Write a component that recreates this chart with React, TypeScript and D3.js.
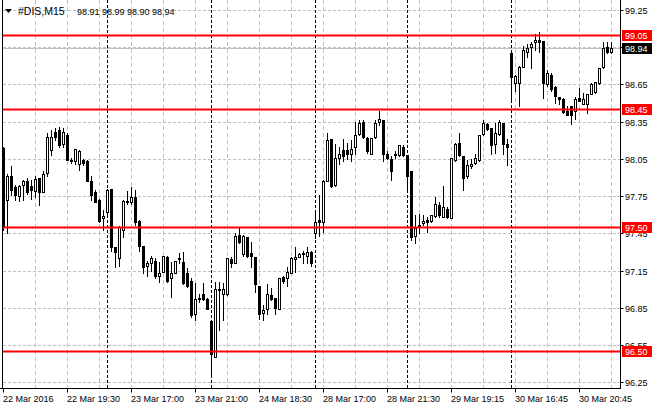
import React, { useRef, useEffect } from "react";
import * as d3 from "d3";

// #DIS M15 bars, 22 Mar 2016 15:30 .. 30 Mar 2016 22:45 (server time)
const opens = [
  98.14, 97.72, 97.91, 97.82, 97.75, 97.84, 97.87, 97.83, 97.79, 97.9,
  97.78, 97.94, 98.12, 98.27, 98.28, 98.17, 98.24, 98.04, 98.03, 98.01,
  98.04, 98.03, 97.87, 97.78, 97.72, 97.57, 97.62, 97.81, 97.34, 97.25,
  97.48, 97.71, 97.7, 97.74, 97.55, 97.35, 97.19, 97.21, 97.23, 97.11,
  97.14, 97.26, 97.09, 97.13, 97.25, 97.22, 97.13, 97.07, 96.8, 96.92,
  96.96, 96.92, 96.74, 96.45, 97.0, 96.96, 96.96, 97.24, 97.21, 97.44,
  97.28, 97.42, 97.29, 97.26, 97.03, 96.81, 96.84, 96.95, 96.93, 96.84,
  97.1, 97.09, 97.13, 97.24, 97.26, 97.29, 97.27, 97.3, 97.45, 97.56,
  97.54, 97.87, 98.21, 97.84, 98.06, 98.12, 98.12, 98.09, 98.15, 98.25,
  98.35, 98.22, 98.09, 98.23, 98.35, 98.36, 98.09, 98.05, 98.09, 98.08,
  98.15, 98.08, 97.95, 97.43, 97.52, 97.53, 97.56, 97.55, 97.59, 97.68,
  97.58, 97.65, 97.57, 98.04, 98.18, 98.07, 97.91, 97.99, 98.02, 98.04,
  98.25, 98.33, 98.3, 98.17, 98.25, 98.34, 98.17, 98.9, 98.66, 98.66,
  98.79, 98.91, 98.95, 98.99, 99.01, 99.0, 98.65, 98.73, 98.63, 98.55,
  98.53, 98.44, 98.48, 98.44, 98.54, 98.49, 98.49, 98.57, 98.59, 98.66,
  98.79, 98.95, 98.91,
];
const highs = [
  98.15, 97.93, 97.99, 97.84, 97.84, 97.88, 97.9, 97.88, 97.91, 97.9,
  97.95, 98.26, 98.28, 98.3, 98.31, 98.3, 98.26, 98.06, 98.13, 98.12,
  98.05, 98.04, 97.91, 97.8, 97.73, 97.64, 97.81, 97.81, 97.34, 97.51,
  97.72, 97.79, 97.82, 97.8, 97.56, 97.35, 97.23, 97.27, 97.25, 97.22,
  97.27, 97.27, 97.22, 97.23, 97.29, 97.3, 97.17, 97.09, 97.05, 96.96,
  97.05, 96.93, 96.75, 97.06, 97.06, 97.05, 97.25, 97.26, 97.45, 97.5,
  97.44, 97.42, 97.38, 97.26, 97.03, 96.87, 97.04, 97.01, 96.93, 97.09,
  97.11, 97.18, 97.26, 97.34, 97.29, 97.31, 97.34, 97.31, 97.62, 97.76,
  97.88, 98.26, 98.21, 98.17, 98.15, 98.21, 98.18, 98.2, 98.35, 98.36,
  98.36, 98.23, 98.22, 98.36, 98.44, 98.36, 98.11, 98.07, 98.11, 98.16,
  98.16, 98.08, 97.95, 97.6, 97.61, 97.6, 97.58, 97.6, 97.74, 97.7,
  97.83, 97.66, 98.06, 98.18, 98.26, 98.07, 98.04, 98.05, 98.09, 98.24,
  98.36, 98.34, 98.3, 98.34, 98.36, 98.34, 98.21, 98.91, 98.73, 98.8,
  98.96, 98.98, 98.99, 99.06, 99.07, 99.0, 98.77, 98.74, 98.64, 98.55,
  98.54, 98.48, 98.48, 98.55, 98.62, 98.58, 98.57, 98.66, 98.67, 98.78,
  98.99, 98.99, 98.99,
];
const lows = [
  97.48, 97.45, 97.76, 97.72, 97.71, 97.72, 97.77, 97.73, 97.74, 97.68,
  97.78, 97.91, 98.08, 98.2, 98.15, 98.15, 98.04, 98.02, 98.01, 97.96,
  98.0, 97.87, 97.72, 97.7, 97.54, 97.48, 97.61, 97.31, 97.18, 97.19,
  97.42, 97.69, 97.69, 97.52, 97.31, 97.13, 97.11, 97.15, 97.09, 97.06,
  97.14, 97.06, 96.94, 97.13, 97.21, 97.04, 97.02, 96.78, 96.75, 96.9,
  96.91, 96.84, 96.29, 96.45, 96.67, 96.75, 96.95, 97.18, 97.21, 97.37,
  97.27, 97.26, 97.18, 96.98, 96.76, 96.75, 96.8, 96.91, 96.8, 96.84,
  97.05, 97.03, 97.13, 97.14, 97.26, 97.21, 97.21, 97.19, 97.41, 97.43,
  97.46, 97.87, 97.82, 97.83, 98.01, 98.03, 98.05, 98.03, 98.09, 98.24,
  98.22, 98.1, 98.09, 98.22, 98.32, 98.03, 98.05, 97.88, 98.06, 98.07,
  98.07, 97.78, 97.4, 97.37, 97.45, 97.52, 97.46, 97.54, 97.58, 97.58,
  97.58, 97.57, 97.57, 98.03, 98.07, 97.8, 97.9, 97.98, 98.01, 98.03,
  98.24, 98.28, 98.09, 98.1, 98.24, 98.09, 98.0, 98.52, 98.6, 98.48,
  98.79, 98.87, 98.78, 98.93, 98.91, 98.54, 98.64, 98.6, 98.5, 98.49,
  98.42, 98.4, 98.33, 98.37, 98.52, 98.49, 98.42, 98.57, 98.58, 98.65,
  98.78, 98.9, 98.9,
];
const closes = [
  97.5, 97.91, 97.8, 97.76, 97.83, 97.87, 97.78, 97.8, 97.89, 97.78,
  97.93, 98.23, 98.23, 98.23, 98.16, 98.27, 98.04, 98.03, 98.13, 98.11,
  98.02, 97.87, 97.76, 97.7, 97.55, 97.59, 97.8, 97.34, 97.3, 97.5,
  97.71, 97.7, 97.74, 97.54, 97.35, 97.18, 97.21, 97.25, 97.11, 97.13,
  97.27, 97.07, 97.13, 97.23, 97.24, 97.05, 97.03, 96.79, 96.92, 96.93,
  96.92, 96.84, 96.48, 97.0, 96.99, 97.0, 97.25, 97.21, 97.43, 97.38,
  97.43, 97.27, 97.27, 97.04, 96.8, 96.83, 96.96, 96.92, 96.85, 97.09,
  97.07, 97.14, 97.25, 97.26, 97.28, 97.28, 97.3, 97.21, 97.54, 97.54,
  97.87, 98.2, 97.83, 98.06, 98.09, 98.07, 98.09, 98.13, 98.24, 98.34,
  98.23, 98.11, 98.22, 98.34, 98.37, 98.09, 98.06, 97.95, 98.08, 98.16,
  98.08, 97.91, 97.42, 97.49, 97.5, 97.55, 97.54, 97.6, 97.69, 97.6,
  97.66, 97.58, 98.06, 98.17, 98.08, 97.9, 98.0, 98.01, 98.06, 98.24,
  98.34, 98.29, 98.16, 98.26, 98.35, 98.17, 98.15, 98.71, 98.72, 98.79,
  98.93, 98.94, 98.98, 99.01, 98.99, 98.66, 98.74, 98.61, 98.56, 98.53,
  98.43, 98.4, 98.4, 98.53, 98.52, 98.53, 98.57, 98.65, 98.67, 98.78,
  98.94, 98.91, 98.94,
];

const priceTicks = [99.25, 98.95, 98.65, 98.35, 98.05, 97.75, 97.45, 97.15, 96.85, 96.55, 96.25];
const levels = [99.05, 98.45, 97.5, 96.5];
const bid = 98.94;

const timeLabels = [
  "22 Mar 2016", "22 Mar 19:30", "23 Mar 17:00", "23 Mar 21:00", "24 Mar 18:30",
  "28 Mar 17:00", "28 Mar 21:30", "29 Mar 19:15", "30 Mar 16:45", "30 Mar 20:45",
];
const timeLabelBars = [0, 16, 32, 48, 64, 80, 96, 112, 128, 144];
const daySeparatorBars = [26, 52, 78, 101, 127];

const symbol = "#DIS,M15";
const lastBar = "98.91 98.99 98.90 98.94";

const FONT = "'Liberation Sans', Arial, sans-serif";

const App: React.FC = () => {
  const ref = useRef<HTMLDivElement>(null);

  useEffect(() => {
    if (!ref.current) return;
    const width = 660;
    const height = 410;
    const axisX = 620.5;
    const axisY = 388.5;

    const svg = d3
      .select(ref.current)
      .append("svg")
      .attr("width", width)
      .attr("height", height)
      .style("position", "fixed")
      .style("left", 0)
      .style("top", 0)
      .style("font-family", FONT);

    svg.append("rect").attr("width", width).attr("height", height).attr("fill", "#fff");

    const n = opens.length;
    const x = d3.scaleLinear().domain([0, n - 1]).range([3.5, 3.5 + 4 * (n - 1)]);
    const y = d3.scaleLinear().domain([96.25, 99.25]).range([382.3, 10]);
    const py = (p: number) => Math.round(y(p));

    // grid
    const grid = svg.append("g").attr("stroke", "#c0c0c0");
    grid
      .selectAll("line.h")
      .data(priceTicks)
      .enter()
      .append("line")
      .attr("stroke-dasharray", "3,2")
      .attr("x1", 3)
      .attr("x2", axisX)
      .attr("y1", (d) => py(d) + 0.5)
      .attr("y2", (d) => py(d) + 0.5);
    grid
      .selectAll("line.v")
      .data(d3.range(8, n, 8))
      .enter()
      .append("line")
      .attr("stroke-dasharray", "4,3")
      .attr("x1", (d) => x(d))
      .attr("x2", (d) => x(d))
      .attr("y1", 0)
      .attr("y2", axisY);

    // day separators
    svg
      .append("g")
      .attr("stroke", "#000")
      .attr("stroke-dasharray", "3,2")
      .selectAll("line")
      .data(daySeparatorBars)
      .enter()
      .append("line")
      .attr("x1", (d) => x(d))
      .attr("x2", (d) => x(d))
      .attr("y1", 0)
      .attr("y2", axisY);

    // bid line
    svg
      .append("line")
      .attr("x1", 3)
      .attr("x2", axisX)
      .attr("y1", py(bid) + 0.5)
      .attr("y2", py(bid) + 0.5)
      .attr("stroke", "#c0c0c0");

    // candles
    const bars = svg.append("g").selectAll("g").data(d3.range(n)).enter().append("g");
    bars
      .append("line")
      .attr("x1", (i) => x(i))
      .attr("x2", (i) => x(i))
      .attr("y1", (i) => py(highs[i]))
      .attr("y2", (i) => py(lows[i]) + 1)
      .attr("stroke", "#000");
    bars.each(function (i) {
      const g = d3.select(this);
      const top = py(Math.max(opens[i], closes[i]));
      const bot = py(Math.min(opens[i], closes[i]));
      if (closes[i] > opens[i]) {
        g.append("rect")
          .attr("x", x(i) - 1)
          .attr("y", top + 0.5)
          .attr("width", 2)
          .attr("height", Math.max(bot - top, 0))
          .attr("fill", "#fff")
          .attr("stroke", "#000");
      } else {
        g.append("rect")
          .attr("x", x(i) - 1.5)
          .attr("y", top)
          .attr("width", 3)
          .attr("height", bot - top + 1)
          .attr("fill", "#000");
      }
    });

    // support / resistance levels
    svg
      .append("g")
      .selectAll("line")
      .data(levels)
      .enter()
      .append("line")
      .attr("x1", 3)
      .attr("x2", axisX)
      .attr("y1", (d) => py(d) + 0.5)
      .attr("y2", (d) => py(d) + 0.5)
      .attr("stroke", "#ff0000")
      .attr("stroke-width", 2);

    // frame
    svg.append("line").attr("x1", 2.5).attr("x2", 2.5).attr("y1", 0).attr("y2", axisY).attr("stroke", "#000");
    svg.append("line").attr("x1", axisX).attr("x2", axisX).attr("y1", 0).attr("y2", axisY + 0.5).attr("stroke", "#000");
    svg.append("line").attr("x1", 0).attr("x2", axisX + 0.5).attr("y1", axisY).attr("y2", axisY).attr("stroke", "#000");

    // price axis
    const pa = svg.append("g").attr("font-size", 9);
    pa.selectAll("line")
      .data(priceTicks)
      .enter()
      .append("line")
      .attr("x1", axisX)
      .attr("x2", axisX + 3)
      .attr("y1", (d) => py(d) + 0.5)
      .attr("y2", (d) => py(d) + 0.5)
      .attr("stroke", "#000");
    pa.selectAll("text")
      .data(priceTicks)
      .enter()
      .append("text")
      .attr("x", 625)
      .attr("y", (d) => py(d) + 4)
      .attr("fill", "#000")
      .text((d) => d.toFixed(2));

    const tags = [
      ...levels.map((v) => ({ v, bg: "#ff0000" })),
      { v: bid, bg: "#000" },
    ];
    const tag = pa.selectAll("g.tag").data(tags).enter().append("g");
    tag
      .append("rect")
      .attr("x", 622)
      .attr("y", (d) => py(d.v) - 5)
      .attr("width", 30)
      .attr("height", 11)
      .attr("fill", (d) => d.bg);
    tag
      .append("text")
      .attr("x", 625)
      .attr("y", (d) => py(d.v) + 4)
      .attr("fill", "#fff")
      .text((d) => d.v.toFixed(2));

    // time axis
    const ta = svg.append("g").attr("font-size", 9);
    ta.selectAll("line")
      .data(timeLabelBars)
      .enter()
      .append("line")
      .attr("x1", (d) => x(d))
      .attr("x2", (d) => x(d))
      .attr("y1", axisY)
      .attr("y2", axisY + 4)
      .attr("stroke", "#000");
    ta.selectAll("text")
      .data(timeLabelBars)
      .enter()
      .append("text")
      .attr("x", (d) => x(d) - 0.5)
      .attr("y", 402)
      .attr("fill", "#000")
      .text((d, i) => timeLabels[i]);

    // header
    svg.append("path").attr("d", "M5,9 L12,9 L8.5,13 Z").attr("fill", "#000");
    svg
      .append("text")
      .attr("x", 18)
      .attr("y", 15)
      .attr("font-size", 10.5)
      .attr("fill", "#000")
      .text(symbol);
    svg
      .append("text")
      .attr("x", 77)
      .attr("y", 15)
      .attr("font-size", 9)
      .attr("fill", "#000")
      .text(lastBar);

    return () => {
      svg.remove();
    };
  }, []);

  return <div ref={ref}></div>;
};

export default App;
